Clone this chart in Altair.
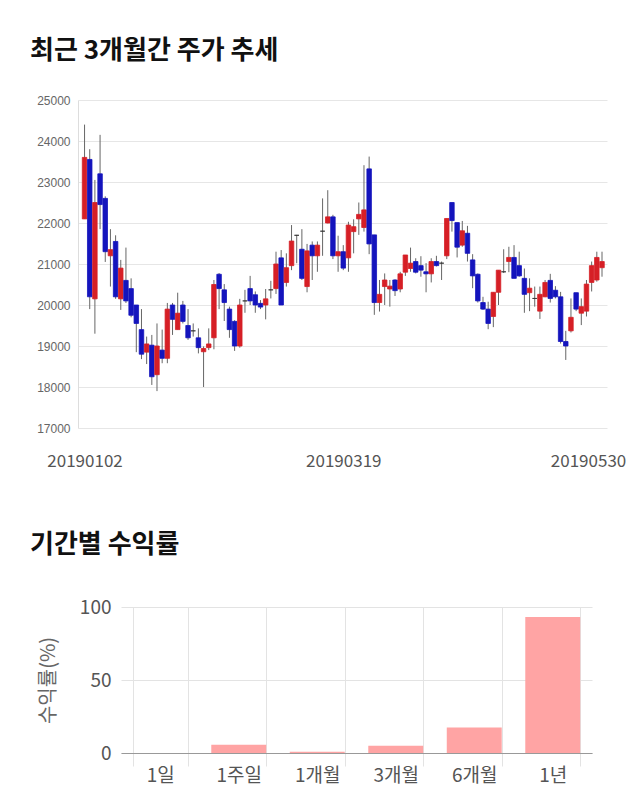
import altair as alt
import pandas as pd

# ---------------- data ----------------
opens = [22100, 23550, 20150, 23200, 22600, 21200, 21550, 20150, 20600, 20400,
         20000, 19400, 18850, 19020, 18300, 18900, 18700, 20000, 19400, 20000,
         19500, 19370, 19200, 18860, 18960, 19200, 20750, 20370, 19900, 19600,
         19000, 20100, 20400, 20250, 20040, 20000, 20370, 20400, 21150, 20550,
         20960, 21700, 21360, 20450, 21460, 21200, 21800, 22000, 22150, 21200,
         21300, 21150, 21790, 22100, 21890, 23320, 21710, 20060, 20450, 20390,
         20610, 20390, 20800, 20890, 21060, 20960, 20810, 20760, 21060, 21020,
         21200, 22500, 22010, 21460, 21750, 21100, 20750, 20060, 19900, 19720,
         20310, 20810, 21060, 21160, 20960, 20650, 20300, 20160, 19850, 20200,
         20600, 20360, 20200, 19110, 19370, 20300, 19800, 19850, 20550, 20610,
         20910]
highs = [24400, 23800, 23050, 24150, 22650, 21850, 21700, 21100, 21400, 20650,
         20000, 19900, 19230, 19270, 19550, 19400, 20050, 20050, 20300, 20100,
         19900, 19550, 19430, 18990, 19430, 20610, 20780, 20510, 19960, 19630,
         20150, 20370, 20710, 20330, 20120, 20390, 20590, 21300, 21340, 21260,
         21950, 21710, 21850, 21490, 21550, 21550, 22600, 22800, 22200, 21690,
         21460, 22030, 22090, 22500, 23410, 23620, 21710, 20610, 20770, 20610,
         20630, 20810, 21220, 21400, 21140, 21190, 21020, 21140, 21200, 21060,
         22110, 22500, 22010, 22050, 21930, 21240, 20770, 20200, 20080, 20310,
         20850, 21360, 21420, 21460, 21300, 20890, 20650, 20450, 20450, 20610,
         20760, 20460, 20320, 19370, 20160, 20300, 20160, 20610, 21060, 21300,
         21300]
lows = [22100, 19900, 19300, 21850, 21050, 20450, 20150, 19880, 20050, 19700,
        18850, 18680, 18560, 18050, 17900, 18580, 18580, 19270, 19400, 19550,
        19150, 19230, 18820, 18000, 18900, 18920, 19900, 19610, 19200, 18880,
        18960, 19810, 20000, 19810, 19900, 19650, 20160, 20270, 20000, 20450,
        20850, 21020, 20610, 20310, 20610, 20810, 21200, 21990, 21120, 20810,
        20850, 20810, 21260, 21710, 21790, 21240, 19760, 19840, 20000, 19960,
        20220, 20310, 20710, 20810, 20770, 20690, 20310, 20550, 20940, 20610,
        21120, 21790, 21160, 21420, 21060, 20410, 20060, 19880, 19410, 19460,
        20000, 20780, 20800, 20650, 20690, 19810, 19850, 19960, 19660, 20190,
        20060, 20160, 19060, 18660, 19330, 19850, 19510, 19720, 20330, 20570,
        20690]
closes = [23600, 20200, 22500, 22450, 21300, 21350, 20200, 20900, 20100, 19750,
          19550, 18800, 19050, 18250, 19000, 18700, 19900, 19650, 19800, 19600,
          19200, 19370, 18960, 18940, 19050, 20500, 20400, 20060, 19400, 19000,
          20000, 20100, 20100, 20000, 19950, 20150, 20370, 21000, 20000, 20910,
          21560, 21700, 20650, 21320, 21200, 21460, 21800, 22150, 21200, 21300,
          20900, 21950, 21910, 22210, 22320, 21490, 20060, 20260, 20610, 20460,
          20350, 20760, 21220, 21020, 20800, 20850, 20760, 21060, 20960, 21020,
          22110, 22060, 21410, 21810, 21260, 20710, 20100, 19900, 19550, 20310,
          20850, 20810, 21160, 20650, 20710, 20260, 20410, 20160, 20260, 20550,
          20160, 20200, 19110, 19000, 19700, 19900, 19960, 20510, 20960, 21160,
          21060]
tick_idx = [0, 50, 100]
tick_labels = ["20190102", "20190319", "20190530"]
y_ticks = [17000, 18000, 19000, 20000, 21000, 22000, 23000, 24000, 25000]

periods = ["1일", "1주일", "1개월", "3개월", "6개월", "1년"]
returns = [0.0, 5.7, 0.9, 5.0, 17.5, 93.2]

# ---------------- tables ----------------
n = len(opens)
df = pd.DataFrame({"idx": list(range(n)), "open": opens, "high": highs,
                   "low": lows, "close": closes})
df["dir"] = ["up" if c > o else ("down" if c < o else "flat")
             for o, c in zip(opens, closes)]
df2 = pd.DataFrame({"period": periods, "ret": returns})

FONT = "Noto Sans CJK KR"
label_expr = " : ".join(
    f"datum.value == {v} ? '{t}'" for v, t in zip(tick_idx[:-1], tick_labels[:-1])
) + f" : '{tick_labels[-1]}'"

# ---------------- candle chart ----------------
xenc = alt.X("idx:Q",
             scale=alt.Scale(domain=[-0.3, 100], nice=False, zero=False),
             axis=alt.Axis(values=tick_idx, labelExpr=label_expr, grid=False,
                           ticks=False, domain=False, labelPadding=25,
                           labelFontSize=17, labelColor="#555555", labelFont=FONT,
                           labelOverlap=False,
                           labelOffset={"condition": {"test": "datum.value == 100", "value": -14},
                                        "value": 0},
                           title=None))
yscale = alt.Scale(domain=[17000, 25000], nice=False, zero=False)
yaxis = alt.Axis(values=y_ticks, grid=True, gridColor="#e6e6e6", ticks=False,
                 domain=True, domainColor="#dddddd", labelFontSize=12,
                 labelColor="#666666", labelFont="Liberation Sans", labelPadding=8,
                 title=None, format="d")

color_scale = alt.Scale(domain=["up", "down", "flat"],
                        range=["#d61f26", "#1414bd", "#333333"])

base = alt.Chart(df)
wicks = base.mark_rule(color="#666666", strokeWidth=1).encode(
    x=xenc,
    y=alt.Y("low:Q", scale=yscale, axis=yaxis),
    y2="high:Q",
)
bodies = base.mark_bar(size=4.5, strokeWidth=0.8).encode(
    x=xenc,
    y=alt.Y("open:Q", scale=yscale, axis=yaxis),
    y2="close:Q",
    color=alt.Color("dir:N", scale=color_scale, legend=None),
    stroke=alt.Stroke("dir:N", scale=color_scale, legend=None),
)
candle = alt.layer(wicks, bodies).properties(
    width=529, height=328,
    title=alt.TitleParams(text="최근 3개월간 주가 추세", anchor="start", frame="group",
                          dx=-48, fontSize=26, fontWeight="bold", font=FONT,
                          color="#111111", offset=30),
)

# ---------------- returns chart ----------------
bars = alt.Chart(df2).mark_bar(color="#ffa4a4").encode(
    x=alt.X("period:N", sort=periods,
            scale=alt.Scale(range=[43, 514], paddingInner=0.3, paddingOuter=0.15),
            axis=alt.Axis(title=None, labelAngle=0, labelFontSize=19,
                          labelColor="#555555", labelFont=FONT, labelPadding=0,
                          tickBand="extent", grid=True, gridColor="#e3e3e3",
                          ticks=True, tickColor="#e3e3e3", tickSize=13,
                          domainColor="#999999")),
    y=alt.Y("ret:Q", scale=alt.Scale(domain=[0, 100], nice=False),
            axis=alt.Axis(values=[0, 50, 100], offset=-43, title="수익률(%)",
                          titleFontSize=20, titleColor="#666666", titleFont=FONT,
                          titleFontWeight="normal", titlePadding=21,
                          labelFontSize=19, labelColor="#555555", labelFont=FONT,
                          labelPadding=10, domain=False, ticks=False, grid=True,
                          gridColor="#e3e3e3")),
).properties(
    width=529, height=146,
    title=alt.TitleParams(text="기간별 수익률", anchor="start", frame="group",
                          dx=-48, fontSize=26, fontWeight="bold", font=FONT,
                          color="#111111", offset=40),
)

chart = alt.vconcat(candle, bars, spacing=63).properties(
    padding={"left": 30, "top": 38, "right": 0, "bottom": 0}
).configure_view(stroke=None)

chart.save("out.html", embed_options={"renderer": "svg", "actions": False})
